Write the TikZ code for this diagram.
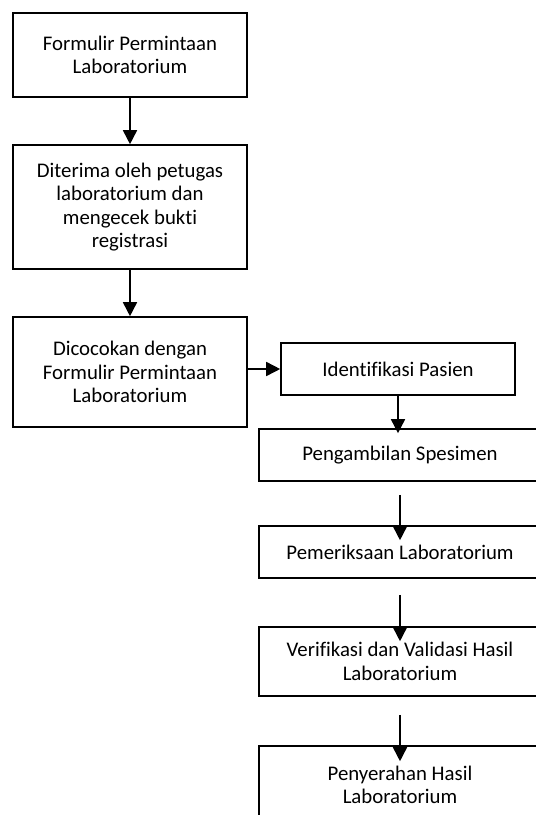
\documentclass[tikz,border=0pt]{standalone}
\usepackage{fontspec}
\setmainfont{Carlito}[Ligatures={NoCommon}]
\usetikzlibrary{arrows.meta}

\begin{document}
\begin{tikzpicture}[
  x=1pt, y=-1pt,
  box/.style = {draw, line width=1.6pt, inner sep=0pt, align=center,
                font=\fontsize{20.8}{23.5}\selectfont},
  wide/.style = {box, minimum width=234pt},
  wider/.style = {box, minimum width=282pt},
  flow/.style = {line width=1.6pt, -{Triangle[length=14pt,width=14pt]}}
]
\useasboundingbox (0,0) rectangle (536,815);
\clip (0,0) rectangle (536,815);

% left column
\node[wide, minimum height=84pt]  (form)   at (130,55)  {Formulir Permintaan\\Laboratorium};
\node[wide, minimum height=124pt] (terima) at (130,207) {Diterima oleh petugas\\laboratorium dan\\mengecek bukti\\registrasi};
\node[wide, minimum height=110pt] (cocok)  at (130,372) {Dicocokan dengan\\Formulir Permintaan\\Laboratorium};

% right column
\node[wide, minimum height=52pt]  (ident)  at (398,369)   {Identifikasi Pasien};
\node[wider, minimum height=52pt] (ambil)  at (400,455)   {Pengambilan Spesimen};
\node[wider, minimum height=52pt] (periksa) at (400,552)  {Pemeriksaan Laboratorium};
\node[wider, minimum height=69pt] (verif)  at (400,661.5) {Verifikasi dan Validasi Hasil\\Laboratorium};
\node[wider, minimum height=78pt] (serah)  at (400,785)   {Penyerahan Hasil\\Laboratorium};

\draw[flow] (form.south) -- (terima.north);
\draw[flow] (terima.south) -- (cocok.north);
\draw[flow] (ident.west -| cocok.east) -- (ident.west);
\draw[flow] (ident.south) -- ([yshift=-5pt]ambil.north -| ident.south);
\draw[flow] ([yshift=-13pt]ambil.south) -- ([yshift=-15pt]periksa.north);
\draw[flow] ([yshift=-16pt]periksa.south) -- ([yshift=-15pt]verif.north);
\draw[flow] ([yshift=-18pt]verif.south) -- ([yshift=-16pt]serah.north);
\end{tikzpicture}
\end{document}
